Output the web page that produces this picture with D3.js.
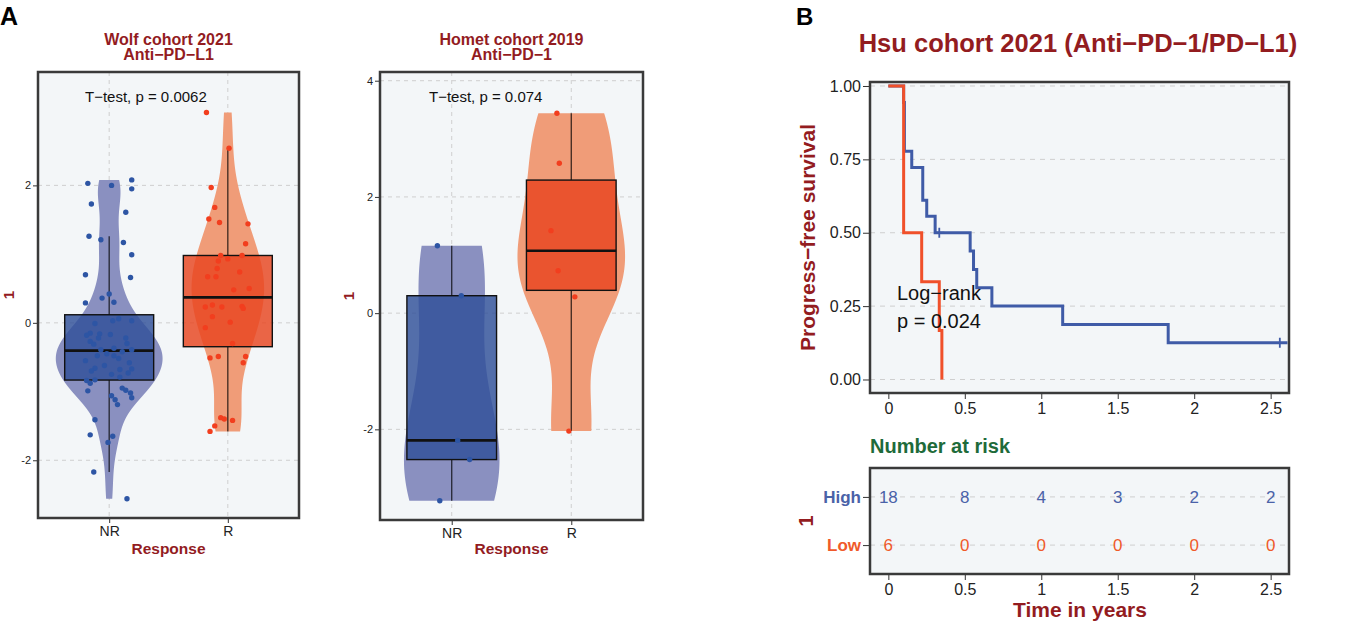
<!DOCTYPE html>
<html>
<head>
<meta charset="utf-8">
<script src="https://cdn.jsdelivr.net/npm/d3@7"></script>
<style>
  body { margin: 0; background: #fff; }
  text { font-family: Arial, "Liberation Sans", Helvetica, sans-serif; }
</style>
</head>
<body>
<svg id="chart" width="1349" height="625"></svg>
<script>
// ---- data ----
var groups = ["NR", "R"];

// Wolf cohort 2021 (values + horizontal jitter in category units)
var wolfNR = [2.08, 2.03, 2.00, 1.95, 1.73, 1.61, 1.26, 1.21, 1.17, 0.99, 0.70, 0.66, 0.42, 0.36, 0.30, 0.29,
  0.06, 0.03, 0.03, -0.01, -0.15, -0.16, -0.17, -0.18, -0.22, -0.22, -0.27, -0.30, -0.31, -0.37,
  -0.39, -0.39, -0.42, -0.45, -0.48, -0.48, -0.52, -0.55, -0.58, -0.62, -0.66, -0.67, -0.68, -0.70,
  -0.73, -0.75, -0.79, -0.83, -0.84, -0.88, -0.95, -0.98, -0.99, -1.02, -1.06, -1.09, -1.12, -1.19,
  -1.41, -1.63, -1.65, -1.74, -2.17, -2.56];
var wolfNRJit = [0.19, -0.18, 0.02, 0.19, -0.15, 0.14, -0.17, -0.07, 0.12, 0.19, -0.20, 0.18, 0.00, -0.06, 0.04, -0.20,
  0.08, 0.03, 0.19, -0.12, -0.16, -0.08, 0.01, -0.19, -0.09, 0.14, -0.16, 0.15, -0.13, 0.04,
  -0.07, 0.19, 0.11, -0.02, -0.10, 0.04, 0.08, -0.20, 0.17, -0.04, -0.12, 0.19, 0.09, -0.15,
  0.16, 0.02, 0.09, -0.12, -0.19, -0.16, 0.11, 0.14, -0.18, 0.18, 0.02, 0.19, 0.05, 0.07,
  -0.12, -0.16, 0.03, -0.01, -0.13, 0.15];
var wolfR = [3.06, 2.54, 1.97, 1.68, 1.51, 1.46, 1.44, 1.15, 0.98, 0.98, 0.93, 0.90, 0.79, 0.74, 0.67, 0.67,
  0.50, 0.48, 0.26, 0.24, 0.23, 0.23, 0.21, 0.09, 0.01, -0.07, -0.30, -0.49, -0.49, -0.51, -0.58,
  -1.38, -1.40, -1.42, -1.50, -1.58];
var wolfRJit = [-0.18, 0.01, -0.14, -0.11, -0.16, -0.07, 0.17, 0.15, -0.06, 0.12, 0.00, -0.08, -0.09, 0.10, -0.17, -0.10,
  0.18, 0.05, -0.13, 0.12, -0.19, -0.05, 0.13, -0.13, 0.02, -0.19, 0.04, -0.08, 0.15, -0.15, 0.13,
  -0.06, -0.03, 0.04, -0.11, -0.15];

// Homet cohort 2019
var hometNR = [1.16, 0.30, -2.19, -2.52, -3.23];
var hometNRJit = [-0.12, 0.08, 0.05, 0.15, -0.10];
var hometR = [3.44, 2.58, 1.42, 0.73, 0.28, -2.03];
var hometRJit = [-0.12, -0.10, -0.17, -0.11, 0.03, -0.02];

var wolfYDomain = [-2.84, 3.65];
var wolfYTicks = [-2, 0, 2];
var hometYDomain = [-3.56, 4.15];
var hometYTicks = [-2, 0, 2, 4];

// Hsu cohort 2021 Kaplan-Meier
var hiTime = [0, 0.1, 0.105, 0.153, 0.225, 0.251, 0.306, 0.535, 0.557, 0.578, 0.677, 1.14, 1.83, 2.61];
var hiSurv = [1, 0.944, 0.778, 0.722, 0.611, 0.556, 0.5, 0.4375, 0.375, 0.3125, 0.25, 0.1875, 0.125, 0.125];
var hiCensorTime = [0.333, 2.56];
var hiCensorSurv = [0.5, 0.125];
var loTime = [0, 0.1, 0.218, 0.333, 0.35];
var loSurv = [1, 0.5, 0.333, 0.1667, 0];

var kmXDomain = [-0.12, 2.62];
var kmYDomain = [-0.046, 1.0136];
var kmXTicks = [0, 0.5, 1, 1.5, 2, 2.5];
var kmYTicks = [0, 0.25, 0.5, 0.75, 1];

var riskGroups = ["High", "Low"];
var riskTimes = [0, 0.5, 1, 1.5, 2, 2.5];
var riskHigh = [18, 8, 4, 3, 2, 2];
var riskLow = [6, 0, 0, 0, 0, 0];

// ---- styles ----
var darkRed = "#931c1f";
var panelBg = "#f3f6f8";
var borderCol = "#3a3a3a";
var gridCol = "#cfcfcf";
var blue = "#3f5ba7";
var red = "#f0502a";

var svg = d3.select("#chart");

function kde(values) {
  var n = values.length;
  var sd = d3.deviation(values);
  var sorted = values.slice().sort(d3.ascending);
  var iqr = d3.quantile(sorted, 0.75) - d3.quantile(sorted, 0.25);
  var bw = 0.9 * Math.min(sd, iqr / 1.34) * Math.pow(n, -0.2);
  var lo = d3.min(values), hi = d3.max(values);
  var pts = [];
  for (var i = 0; i < 512; i++) {
    var y = lo + (hi - lo) * i / 511;
    var s = 0;
    values.forEach(function(v) {
      var z = (y - v) / bw;
      s += Math.exp(-0.5 * z * z) / Math.sqrt(2 * Math.PI);
    });
    pts.push({y: y, d: s / (n * bw)});
  }
  return pts;
}

function boxStats(values) {
  var s = values.slice().sort(d3.ascending);
  var q1 = d3.quantile(s, 0.25), med = d3.quantile(s, 0.5), q3 = d3.quantile(s, 0.75);
  var iqr = q3 - q1;
  var lowW = d3.min(s.filter(function(v) { return v >= q1 - 1.5 * iqr; }));
  var highW = d3.max(s.filter(function(v) { return v <= q3 + 1.5 * iqr; }));
  return {q1: q1, med: med, q3: q3, lo: lowW, hi: highW};
}

function drawViolinPanel(cfg) {
  var g = svg.append("g");
  var x = d3.scaleLinear().domain([0.4, 2.6]).range([cfg.left, cfg.right]);
  var y = d3.scaleLinear().domain(cfg.yDomain).range([cfg.bottom, cfg.top]);

  g.append("rect").attr("x", cfg.left).attr("y", cfg.top)
    .attr("width", cfg.right - cfg.left).attr("height", cfg.bottom - cfg.top)
    .attr("fill", panelBg);

  // grid
  g.selectAll(".hg").data(cfg.yTicks).enter().append("line")
    .attr("x1", cfg.left).attr("x2", cfg.right)
    .attr("y1", function(d) { return y(d); }).attr("y2", function(d) { return y(d); })
    .attr("stroke", gridCol).attr("stroke-dasharray", "4,4");
  g.selectAll(".vg").data(groups).enter().append("line")
    .attr("x1", function(d, i) { return x(i + 1); }).attr("x2", function(d, i) { return x(i + 1); })
    .attr("y1", cfg.top).attr("y2", cfg.bottom)
    .attr("stroke", gridCol).attr("stroke-dasharray", "4,4");

  var sets = [cfg.nr, cfg.r];
  var jits = [cfg.nrJit, cfg.rJit];
  var violinFill = ["#8a90c0", "#f09c78"];
  var boxFill = ["#2f4f99", "#e8441f"];
  var ptFill = ["#2d55a4", "#f23e1e"];

  var dens = sets.map(kde);
  var maxD = d3.max(dens, function(p) { return d3.max(p, function(q) { return q.d; }); });
  var wScale = d3.scaleLinear().domain([0, maxD]).range([0, x(1.45) - x(1)]);

  dens.forEach(function(p, i) {
    var xc = x(i + 1);
    var area = d3.area()
      .y(function(q) { return y(q.y); })
      .x0(function(q) { return xc - wScale(q.d); })
      .x1(function(q) { return xc + wScale(q.d); });
    g.append("path").datum(p).attr("d", area).attr("fill", violinFill[i]);
  });

  sets.forEach(function(vals, i) {
    var st = boxStats(vals);
    var xc = x(i + 1);
    var hw = x(1.375) - x(1);
    g.append("line").attr("x1", xc).attr("x2", xc).attr("y1", y(st.q3)).attr("y2", y(st.hi))
      .attr("stroke", "#000").attr("stroke-opacity", 0.75).attr("stroke-width", 1.3);
    g.append("line").attr("x1", xc).attr("x2", xc).attr("y1", y(st.q1)).attr("y2", y(st.lo))
      .attr("stroke", "#000").attr("stroke-opacity", 0.75).attr("stroke-width", 1.3);
    g.append("rect").attr("x", xc - hw).attr("width", 2 * hw)
      .attr("y", y(st.q3)).attr("height", y(st.q1) - y(st.q3))
      .attr("fill", boxFill[i]).attr("fill-opacity", 0.82)
      .attr("stroke", "#111").attr("stroke-width", 1.4);
    g.append("line").attr("x1", xc - hw).attr("x2", xc + hw).attr("y1", y(st.med)).attr("y2", y(st.med))
      .attr("stroke", "#111").attr("stroke-width", 2.6);
  });

  sets.forEach(function(vals, i) {
    g.selectAll(".pt" + i).data(vals).enter().append("circle")
      .attr("cx", function(d, k) { return x(i + 1 + jits[i][k]); })
      .attr("cy", function(d) { return y(d); })
      .attr("r", 2.7).attr("fill", ptFill[i]);
  });

  g.append("rect").attr("x", cfg.left).attr("y", cfg.top)
    .attr("width", cfg.right - cfg.left).attr("height", cfg.bottom - cfg.top)
    .attr("fill", "none").attr("stroke", borderCol).attr("stroke-width", 2.5);

  // axes
  var ya = g.append("g").attr("transform", "translate(" + (cfg.left - 1) + ",0)")
    .call(d3.axisLeft(y).tickValues(cfg.yTicks).tickSize(4).tickPadding(2).tickFormat(function(d) { return String(d); }));
  ya.select(".domain").remove();
  ya.selectAll("line").attr("stroke", "#333");
  ya.selectAll("text").attr("font-size", 11).attr("fill", "#222").style("font-family", "Arial, 'Liberation Sans', sans-serif");

  var xa = g.append("g").attr("transform", "translate(0," + (cfg.bottom + 1) + ")")
    .call(d3.axisBottom(x).tickValues([1, 2]).tickSize(4).tickPadding(3).tickFormat(function(d) { return groups[d - 1]; }));
  xa.select(".domain").remove();
  xa.selectAll("line").attr("stroke", "#333");
  xa.selectAll("text").attr("font-size", 14).attr("fill", "#222").style("font-family", "Arial, 'Liberation Sans', sans-serif");

  var cx = (cfg.left + cfg.right) / 2;
  g.append("text").attr("x", cx).attr("y", 45).attr("text-anchor", "middle")
    .attr("font-size", 16).attr("font-weight", "bold").attr("fill", darkRed).text(cfg.title1);
  g.append("text").attr("x", cx).attr("y", 60).attr("text-anchor", "middle")
    .attr("font-size", 16).attr("font-weight", "bold").attr("fill", darkRed).text(cfg.title2);
  g.append("text").attr("x", cfg.ptextX).attr("y", 102)
    .attr("font-size", 15).attr("fill", "#111").text(cfg.ptext);
  g.append("text").attr("x", cx).attr("y", 554).attr("text-anchor", "middle")
    .attr("font-size", 15.5).attr("font-weight", "bold").attr("fill", darkRed).text("Response");
  g.append("text").attr("transform", "translate(" + cfg.ylabX + "," + ((cfg.top + cfg.bottom) / 2) + ") rotate(-90)")
    .attr("text-anchor", "middle").attr("font-size", 15).attr("font-weight", "bold")
    .attr("fill", darkRed).text("1");
}

drawViolinPanel({
  left: 38, right: 299, top: 72, bottom: 518,
  yDomain: wolfYDomain, yTicks: wolfYTicks,
  nr: wolfNR, nrJit: wolfNRJit, r: wolfR, rJit: wolfRJit,
  title1: "Wolf cohort 2021", title2: "Anti\u2212PD\u2212L1",
  ptext: "T\u2212test, p = 0.0062", ptextX: 85, ylabX: 14
});
drawViolinPanel({
  left: 380, right: 643, top: 72, bottom: 520,
  yDomain: hometYDomain, yTicks: hometYTicks,
  nr: hometNR, nrJit: hometNRJit, r: hometR, rJit: hometRJit,
  title1: "Homet cohort 2019", title2: "Anti\u2212PD\u22121",
  ptext: "T\u2212test, p = 0.074", ptextX: 429, ylabX: 354
});

svg.append("text").attr("x", 0).attr("y", 25).attr("font-size", 25).attr("font-weight", "bold").text("A");
svg.append("text").attr("x", 796).attr("y", 25).attr("font-size", 24).attr("font-weight", "bold").text("B");

// ---- panel B: KM curve ----
var km = {left: 870, right: 1289, top: 82, bottom: 393};
var kx = d3.scaleLinear().domain(kmXDomain).range([km.left, km.right]);
var ky = d3.scaleLinear().domain(kmYDomain).range([km.bottom, km.top]);
var gk = svg.append("g");

gk.append("rect").attr("x", km.left).attr("y", km.top).attr("width", km.right - km.left)
  .attr("height", km.bottom - km.top).attr("fill", panelBg);
gk.selectAll(".kg").data(kmYTicks).enter().append("line")
  .attr("x1", km.left).attr("x2", km.right)
  .attr("y1", function(d) { return ky(d); }).attr("y2", function(d) { return ky(d); })
  .attr("stroke", gridCol).attr("stroke-dasharray", "5,5");

var step = d3.line().curve(d3.curveStepAfter)
  .x(function(d) { return kx(d[0]); }).y(function(d) { return ky(d[1]); });
gk.append("path").datum(d3.zip(hiTime, hiSurv)).attr("d", step)
  .attr("fill", "none").attr("stroke", blue).attr("stroke-width", 3);
gk.append("path").datum(d3.zip(loTime, loSurv)).attr("d", step)
  .attr("fill", "none").attr("stroke", red).attr("stroke-width", 3);
gk.selectAll(".cens").data(d3.zip(hiCensorTime, hiCensorSurv)).enter().append("path")
  .attr("d", function(d) {
    var px = kx(d[0]), py = ky(d[1]);
    return "M" + (px - 5) + "," + py + "H" + (px + 5) + "M" + px + "," + (py - 5) + "V" + (py + 5);
  })
  .attr("stroke", blue).attr("stroke-width", 1.8);

gk.append("rect").attr("x", km.left).attr("y", km.top).attr("width", km.right - km.left)
  .attr("height", km.bottom - km.top).attr("fill", "none").attr("stroke", borderCol).attr("stroke-width", 2.5);

var kya = gk.append("g").attr("transform", "translate(" + (km.left - 1) + ",0)")
  .call(d3.axisLeft(ky).tickValues(kmYTicks).tickSize(6).tickPadding(2).tickFormat(d3.format(".2f")));
kya.select(".domain").remove();
kya.selectAll("line").attr("stroke", "#333");
kya.selectAll("text").attr("font-size", 16).attr("fill", "#222").style("font-family", "Arial, 'Liberation Sans', sans-serif");

var kxa = gk.append("g").attr("transform", "translate(0," + (km.bottom + 1) + ")")
  .call(d3.axisBottom(kx).tickValues(kmXTicks).tickSize(5).tickPadding(4).tickFormat(function(d) { return String(d); }));
kxa.select(".domain").remove();
kxa.selectAll("line").attr("stroke", "#333");
kxa.selectAll("text").attr("font-size", 16).attr("fill", "#222").style("font-family", "Arial, 'Liberation Sans', sans-serif");

gk.append("text").attr("x", 1078).attr("y", 52).attr("text-anchor", "middle")
  .attr("font-size", 25.5).attr("font-weight", "bold").attr("fill", darkRed)
  .text("Hsu cohort 2021 (Anti\u2212PD\u22121/PD\u2212L1)");
gk.append("text").attr("transform", "translate(815," + ((km.top + km.bottom) / 2) + ") rotate(-90)")
  .attr("text-anchor", "middle").attr("font-size", 21).attr("font-weight", "bold").attr("fill", darkRed)
  .text("Progress\u2212free survival");
gk.append("text").attr("x", 897).attr("y", 300).attr("font-size", 20).attr("fill", "#111").text("Log\u2212rank");
gk.append("text").attr("x", 897).attr("y", 328).attr("font-size", 20).attr("fill", "#111").text("p = 0.024");

// ---- risk table ----
var rt = {left: 870, right: 1289, top: 468, bottom: 574};
var ry = d3.scalePoint().domain(riskGroups).range([rt.top, rt.bottom]).padding(0.6);
var gr = svg.append("g");
gr.append("text").attr("x", 870).attr("y", 453).attr("font-size", 20).attr("font-weight", "bold")
  .attr("fill", "#1e6b3a").text("Number at risk");
gr.append("rect").attr("x", rt.left).attr("y", rt.top).attr("width", rt.right - rt.left)
  .attr("height", rt.bottom - rt.top).attr("fill", panelBg);
gr.selectAll(".rg").data(riskGroups).enter().append("line")
  .attr("x1", rt.left).attr("x2", rt.right)
  .attr("y1", function(d) { return ry(d); }).attr("y2", function(d) { return ry(d); })
  .attr("stroke", gridCol).attr("stroke-dasharray", "5,5");

var rowData = [riskHigh, riskLow];
var rowCol = ["#4a62a8", "#f05a2a"];
rowData.forEach(function(row, i) {
  gr.selectAll(".rn" + i).data(row).enter().append("text")
    .attr("x", function(d, k) { return kx(riskTimes[k]); })
    .attr("y", ry(riskGroups[i]))
    .attr("dy", "0.35em").attr("text-anchor", "middle")
    .attr("font-size", 17).attr("fill", rowCol[i]).text(function(d) { return d; });
});
gr.append("rect").attr("x", rt.left).attr("y", rt.top).attr("width", rt.right - rt.left)
  .attr("height", rt.bottom - rt.top).attr("fill", "none").attr("stroke", borderCol).attr("stroke-width", 2.5);

var rya = gr.append("g").attr("transform", "translate(" + (rt.left - 1) + ",0)")
  .call(d3.axisLeft(ry).tickSize(6).tickPadding(2));
rya.select(".domain").remove();
rya.selectAll("line").attr("stroke", "#333");
rya.selectAll("text").attr("font-size", 17).attr("font-weight", "bold")
  .style("font-family", "Arial, 'Liberation Sans', sans-serif")
  .attr("fill", function(d, i) { return rowCol[i]; });

var rxa = gr.append("g").attr("transform", "translate(0," + (rt.bottom + 1) + ")")
  .call(d3.axisBottom(kx).tickValues(kmXTicks).tickSize(5).tickPadding(4).tickFormat(function(d) { return String(d); }));
rxa.select(".domain").remove();
rxa.selectAll("line").attr("stroke", "#333");
rxa.selectAll("text").attr("font-size", 16).attr("fill", "#222").style("font-family", "Arial, 'Liberation Sans', sans-serif");

gr.append("text").attr("x", 1080).attr("y", 617).attr("text-anchor", "middle")
  .attr("font-size", 21).attr("font-weight", "bold").attr("fill", darkRed).text("Time in years");
gr.append("text").attr("transform", "translate(813," + ((rt.top + rt.bottom) / 2) + ") rotate(-90)")
  .attr("text-anchor", "middle").attr("font-size", 20).attr("font-weight", "bold").attr("fill", darkRed).text("1");
</script>
</body>
</html>
